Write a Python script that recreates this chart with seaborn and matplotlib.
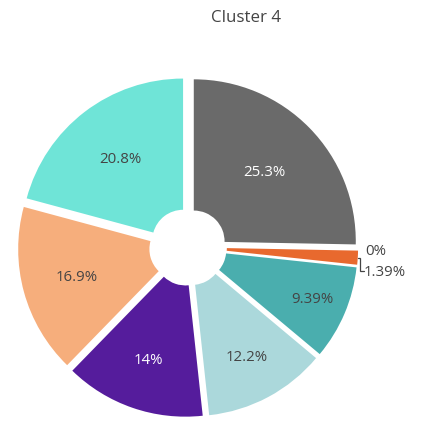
import numpy as np
import matplotlib
matplotlib.use("Agg")
import matplotlib.pyplot as plt
import seaborn as sns

# ----------------------------
# Data (clockwise from 12 o'clock)
# ----------------------------
shares = [25.3, 0.0, 1.39, 9.39, 12.2, 14.0, 16.9, 20.8]
colors = ["#6a6a6a", "#e36a2c", "#e8692e", "#4aaeae", "#abd8db",
          "#551c9c", "#f6ae7c", "#6fe4d7"]
text_colors = ["white", "#444444", "#444444", "#444444", "#444444",
               "white", "#444444", "#444444"]
title = "Cluster 4"

sns.set_theme(style="white")
plt.rcParams["font.family"] = ["Open Sans", "DejaVu Sans"]

fig = plt.figure(figsize=(4.26, 4.37), dpi=100)
W, H = 426, 437
scale = 162  # px per unit radius
cx, cy = 188, 247
half = 1.1 * scale
ax = fig.add_axes([(cx - half) / W, (H - cy - half) / H, 2 * half / W, 2 * half / H])

pull = 0.05
hole = 0.19
wedges, _ = ax.pie(shares, colors=colors, startangle=90, counterclock=False,
                   explode=[pull] * len(shares), radius=1,
                   wedgeprops=dict(width=1 - hole, linewidth=0))
ax.set_xlim(-1.1, 1.1)
ax.set_ylim(-1.1, 1.1)
ax.set_aspect("equal")
ax.axis("off")

labels = [f"{v:.3g}%" for v in shares]
for i, (w, lab) in enumerate(zip(wedges, labels)):
    span = w.theta2 - w.theta1
    ang = np.deg2rad((w.theta1 + w.theta2) / 2)
    if shares[i] >= 5:
        # narrower slices push their label further out (like plotly)
        r = (107 + 1522 * (1 / span - 1 / 91)) / scale
        ax.text(r * np.cos(ang), r * np.sin(ang), lab, ha="center", va="center",
                fontsize=10.8, color=text_colors[i])

# outside labels for tiny slices
small = [i for i, v in enumerate(shares) if v < 5]
ax.text(1.093, -0.03, labels[small[0]], ha="left", va="center",
        fontsize=10.8, color="#444444")
w = wedges[small[1]]
ang = np.deg2rad((w.theta1 + w.theta2) / 2)
x0 = (1 + pull) * np.cos(ang)
y0 = (1 + pull) * np.sin(ang)
ax.plot([x0, 1.062, 1.062, 1.085], [y0, y0, -0.148, -0.148],
        color="#444444", lw=0.9, solid_joinstyle="miter")
ax.text(1.086, -0.155, labels[small[1]], ha="left", va="center",
        fontsize=10.8, color="#444444")

fig.text(246 / W, 1 - 18 / H, title, ha="center", va="center",
         fontsize=12.2, color="#444444")

fig.savefig("out.png", dpi=100)
